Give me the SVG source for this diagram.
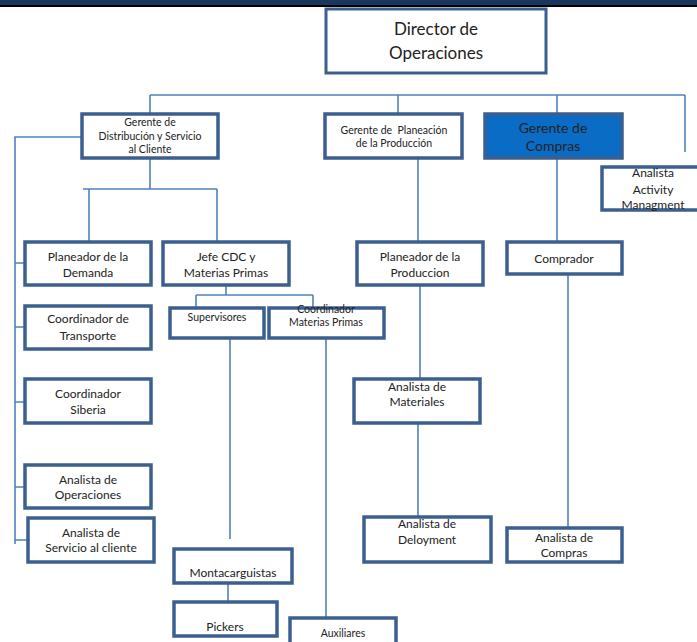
<svg xmlns="http://www.w3.org/2000/svg" width="697" height="642" viewBox="0 0 697 642">
  <style>
    .box { fill: #ffffff; stroke: #3b5f8e; stroke-width: 3.5; }
    .boss { fill: #ffffff; stroke: #3b5f8e; stroke-width: 3; }
    .blue { fill: #0a6cc4; stroke: #3b5f8e; stroke-width: 3.5; }
    .t { font-family: Lato, "Liberation Sans", sans-serif; fill: #222222; text-anchor: middle; white-space: pre; }
    .s10 { font-size: 10.5px; }
    .s12 { font-size: 12px; }
    .s14 { font-size: 14px; }
    .s17 { font-size: 17px; }
    #connectors path { fill: none; stroke: #4f81bd; stroke-width: 1.6; }
  </style>

  <rect width="697" height="642" fill="#ffffff"/>
  <rect x="0" y="0" width="697" height="5" fill="#18375f"/>
  <rect x="0" y="5" width="697" height="2" fill="#000000"/>

  <g id="connectors">
    <!-- top level bus -->
    <path d="M150 95 H685 M150 95 V114 M398 95 V114 M557 95 V114 M685 95 V152"/>
    <!-- distribution branch -->
    <path d="M82 137 H15 V544 M15 263 H25 M15 327 H25 M15 402 H25 M15 487 H25 M15 540 H28"/>
    <path d="M150 158 V189 M83 189 H217 M89 189 V242 M217 189 V242"/>
    <!-- CDC branch -->
    <path d="M226 285 V295 M196 295 H313 M196 295 V308 M313 295 V308"/>
    <path d="M230 338 V539 M326 338 V618 M228 583 V602"/>
    <!-- production planning branch -->
    <path d="M418 158 V242 M420 285 V379 M418 423 V517"/>
    <!-- purchasing branch -->
    <path d="M557 158 V242 M568 274 V528"/>
  </g>

  <g id="director">
    <rect class="boss" x="326" y="9" width="220" height="64"/>
    <text class="t s17" x="436" y="35">Director de</text>
    <text class="t s17" x="436" y="59">Operaciones</text>
  </g>

  <g id="gerente-distribucion">
    <rect class="box" x="82" y="114" width="136" height="44"/>
    <text class="t s10" x="150" y="126">Gerente de</text>
    <text class="t s10" x="150" y="140">Distribución y Servicio</text>
    <text class="t s10" x="150" y="153">al Cliente</text>
  </g>

  <g id="gerente-planeacion">
    <rect class="box" x="325" y="114" width="137" height="44"/>
    <text class="t s10" x="394" y="134">Gerente de  Planeación</text>
    <text class="t s10" x="394" y="147">de la Producción</text>
  </g>

  <g id="gerente-compras">
    <rect class="blue" x="485" y="114" width="137" height="44"/>
    <text class="t s14" x="553" y="133">Gerente de</text>
    <text class="t s14" x="553" y="151">Compras</text>
  </g>

  <g id="analista-activity">
    <rect class="box" x="602" y="167" width="100" height="43"/>
    <text class="t s12" x="653" y="177">Analista</text>
    <text class="t s12" x="653" y="194">Activity</text>
    <text class="t s12" x="653" y="209">Managment</text>
  </g>

  <g id="planeador-demanda">
    <rect class="box" x="25" y="242" width="126" height="43"/>
    <text class="t s12" x="88" y="261">Planeador de la</text>
    <text class="t s12" x="88" y="277">Demanda</text>
  </g>

  <g id="jefe-cdc">
    <rect class="box" x="163" y="242" width="126" height="43"/>
    <text class="t s12" x="226" y="261">Jefe CDC y</text>
    <text class="t s12" x="226" y="277">Materias Primas</text>
  </g>

  <g id="planeador-produccion">
    <rect class="box" x="357" y="242" width="126" height="43"/>
    <text class="t s12" x="420" y="261">Planeador de la</text>
    <text class="t s12" x="420" y="277">Produccion</text>
  </g>

  <g id="comprador">
    <rect class="box" x="507" y="242" width="115" height="32"/>
    <text class="t s12" x="564" y="263">Comprador</text>
  </g>

  <g id="coordinador-transporte">
    <rect class="box" x="25" y="306" width="126" height="43"/>
    <text class="t s12" x="88" y="323">Coordinador de</text>
    <text class="t s12" x="88" y="340">Transporte</text>
  </g>

  <g id="supervisores">
    <rect class="box" x="170" y="308" width="94" height="30"/>
    <text class="t s10" x="217" y="321">Supervisores</text>
  </g>

  <g id="coordinador-mp">
    <rect class="box" x="269" y="308" width="115" height="30"/>
    <text class="t s10" x="326" y="313">Coordinador</text>
    <text class="t s10" x="326" y="326">Materias Primas</text>
  </g>

  <g id="coordinador-siberia">
    <rect class="box" x="25" y="379" width="126" height="44"/>
    <text class="t s12" x="88" y="398">Coordinador</text>
    <text class="t s12" x="88" y="414">Siberia</text>
  </g>

  <g id="analista-materiales">
    <rect class="box" x="354" y="379" width="126" height="44"/>
    <text class="t s12" x="417" y="391">Analista de</text>
    <text class="t s12" x="417" y="406">Materiales</text>
  </g>

  <g id="analista-operaciones">
    <rect class="box" x="25" y="465" width="126" height="43"/>
    <text class="t s12" x="88" y="484">Analista de</text>
    <text class="t s12" x="88" y="499">Operaciones</text>
  </g>

  <g id="analista-servicio">
    <rect class="box" x="28" y="518" width="126" height="44"/>
    <text class="t s12" x="91" y="537">Analista de</text>
    <text class="t s12" x="91" y="552">Servicio al cliente</text>
  </g>

  <g id="analista-deloyment">
    <rect class="box" x="364" y="517" width="127" height="45"/>
    <text class="t s12" x="427" y="528">Analista de</text>
    <text class="t s12" x="427" y="544">Deloyment</text>
  </g>

  <g id="analista-compras">
    <rect class="box" x="507" y="528" width="115" height="34"/>
    <text class="t s12" x="564" y="542">Analista de</text>
    <text class="t s12" x="564" y="557">Compras</text>
  </g>

  <g id="montacarguistas">
    <rect class="box" x="174" y="549" width="118" height="34"/>
    <text class="t s12" x="233" y="577">Montacarguistas</text>
  </g>

  <g id="pickers">
    <rect class="box" x="174" y="602" width="103" height="34"/>
    <text class="t s12" x="225" y="631">Pickers</text>
  </g>

  <g id="auxiliares">
    <rect class="box" x="290" y="618" width="106" height="34"/>
    <text class="t s10" x="343" y="637">Auxiliares</text>
  </g>
</svg>
